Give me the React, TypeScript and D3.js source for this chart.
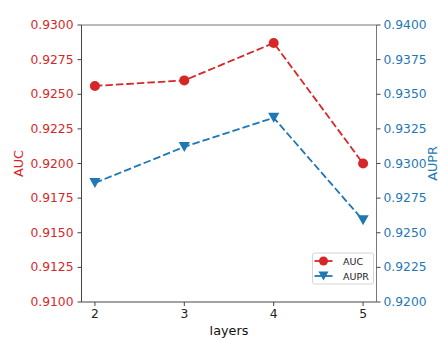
import React from "react";
import * as d3 from "d3";

const layers = [2, 3, 4, 5];
const aucValues = [0.9256, 0.926, 0.9287, 0.92];
const auprValues = [0.9286, 0.9312, 0.9333, 0.9259];
const leftTicks = [0.91, 0.9125, 0.915, 0.9175, 0.92, 0.9225, 0.925, 0.9275, 0.93];
const rightTicks = [0.92, 0.9225, 0.925, 0.9275, 0.93, 0.9325, 0.935, 0.9375, 0.94];
const seriesNames = ["AUC", "AUPR"];

const RED = "#d62728";
const BLUE = "#1f77b4";
const FONT = "DejaVu Sans, sans-serif";

export default function App() {
  const L = 81.5, R = 376.5, T = 25, B = 302;
  const x = d3.scaleLinear().domain([1.85, 5.15]).range([L, R]);
  const yL = d3.scaleLinear().domain([0.91, 0.93]).range([B, T]);
  const yR = d3.scaleLinear().domain([0.92, 0.94]).range([B, T]);

  const lineL = d3.line<number>().x((_, i) => x(layers[i])).y((d) => yL(d));
  const lineR = d3.line<number>().x((_, i) => x(layers[i])).y((d) => yR(d));

  const tri = (cx: number, cy: number, s = 1) => {
    const w = 5.6 * s, h = 5 * s;
    return `M${cx - w},${cy - h}L${cx + w},${cy - h}L${cx},${cy + h}Z`;
  };

  return (
    <svg width={440} height={338} style={{ position: "absolute", left: 0, top: 0 }} fontFamily={FONT}>
      <rect x={0} y={0} width={440} height={338} fill="white" />
      {/* spines */}
      <line x1={L} x2={R} y1={T} y2={T} stroke="#777" strokeWidth={1} />
      <line x1={L} x2={R} y1={B} y2={B} stroke="#444" strokeWidth={1} />
      <line x1={L} x2={L} y1={T} y2={B} stroke="#444" strokeWidth={1} />
      <line x1={R} x2={R} y1={T} y2={B} stroke="#777" strokeWidth={1} />

      {/* left ticks */}
      {leftTicks.map((t) => (
        <g key={"l" + t}>
          <line x1={L - 4} x2={L} y1={yL(t)} y2={yL(t)} stroke="#444" />
          <text x={L - 8} y={yL(t)} textAnchor="end" dominantBaseline="central" fontSize={12.3} fill={RED}>
            {t.toFixed(4)}
          </text>
        </g>
      ))}
      {/* right ticks */}
      {rightTicks.map((t) => (
        <g key={"r" + t}>
          <line x1={R} x2={R + 4} y1={yR(t)} y2={yR(t)} stroke="#444" />
          <text x={R + 7} y={yR(t)} textAnchor="start" dominantBaseline="central" fontSize={12.3} fill={BLUE}>
            {t.toFixed(4)}
          </text>
        </g>
      ))}
      {/* bottom ticks */}
      {layers.map((t) => (
        <g key={"b" + t}>
          <line x1={x(t)} x2={x(t)} y1={B} y2={B + 4} stroke="#444" />
          <text x={x(t)} y={B + 12} textAnchor="middle" dominantBaseline="central" fontSize={12.3} fill="#222">
            {t}
          </text>
        </g>
      ))}

      {/* axis labels */}
      <text x={229} y={335} textAnchor="middle" fontSize={12.8} fill="#111">layers</text>
      <text transform={`translate(18,${(T + B) / 2}) rotate(-90)`} textAnchor="middle" dominantBaseline="central" fontSize={12.8} fill={RED}>
        AUC
      </text>
      <text transform={`translate(432.5,${(T + B) / 2}) rotate(-90)`} textAnchor="middle" dominantBaseline="central" fontSize={12.8} fill={BLUE}>
        AUPR
      </text>

      {/* series */}
      <path d={lineL(aucValues) || ""} fill="none" stroke={RED} strokeWidth={1.8} strokeDasharray="7.5,3" />
      {aucValues.map((v, i) => (
        <circle key={"c" + i} cx={x(layers[i])} cy={yL(v)} r={5} fill={RED} />
      ))}
      <path d={lineR(auprValues) || ""} fill="none" stroke={BLUE} strokeWidth={1.8} strokeDasharray="7.5,3" />
      {auprValues.map((v, i) => (
        <path key={"t" + i} d={tri(x(layers[i]), yR(v))} fill={BLUE} />
      ))}

      {/* legend */}
      <rect x={312.5} y={253} width={61} height={31} rx={2} fill="white" fillOpacity={0.85} stroke="#d5d5d5" />
      {seriesNames.map((name, i) => {
        const cy = 261 + i * 15;
        const color = i === 0 ? RED : BLUE;
        return (
          <g key={name}>
            <line x1={314.5} x2={332.5} y1={cy} y2={cy} stroke={color} strokeWidth={1.8} />
            {i === 0 ? (
              <circle cx={323.5} cy={cy} r={4.5} fill={color} />
            ) : (
              <path d={tri(323.5, cy, 0.9)} fill={color} />
            )}
            <text x={343} y={cy} dominantBaseline="central" fontSize={9.5} fill="#222">{name}</text>
          </g>
        );
      })}
    </svg>
  );
}
